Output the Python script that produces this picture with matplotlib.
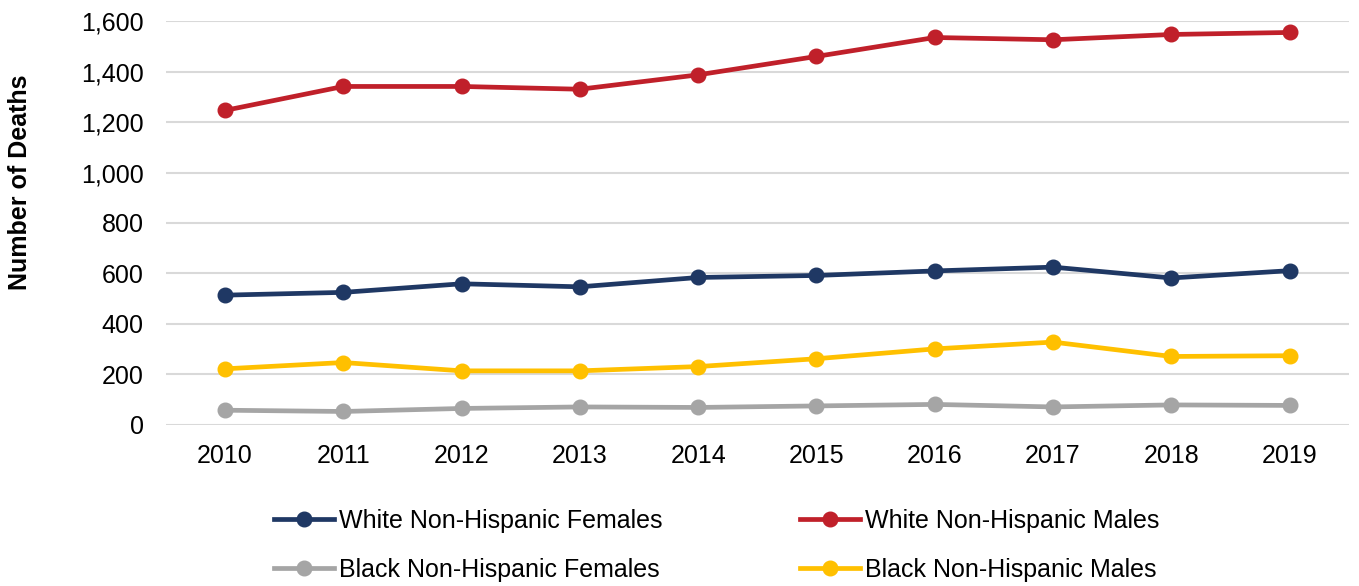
import matplotlib
matplotlib.use("Agg")
import matplotlib.pyplot as plt
from matplotlib.ticker import FuncFormatter
from matplotlib.transforms import blended_transform_factory

plt.rcParams['font.family'] = ['Liberation Sans', 'DejaVu Sans']

years = ["2010", "2011", "2012", "2013", "2014", "2015", "2016", "2017", "2018", "2019"]
white_f = [514, 525, 559, 547, 584, 592, 610, 625, 582, 611]
white_m = [1246, 1341, 1341, 1330, 1387, 1460, 1535, 1526, 1547, 1555]
black_f = [58, 53, 65, 71, 69, 75, 81, 71, 79, 77]
black_m = [222, 247, 214, 214, 231, 262, 301, 328, 271, 274]

series = [
    ("White Non-Hispanic Females", white_f, "#1F3864"),
    ("White Non-Hispanic Males", white_m, "#C0202A"),
    ("Black Non-Hispanic Females", black_f, "#A5A5A5"),
    ("Black Non-Hispanic Males", black_m, "#FFC000"),
]

fig = plt.figure(figsize=(13.59, 5.86), dpi=100)
ax = fig.add_axes([0.122, 0.275, 0.8705, 0.689])
x = list(range(len(years)))
handles = {}
for name, vals, col in series:
    h, = ax.plot(x, vals, color=col, lw=3.4, marker='o', ms=10.5, label=name, zorder=3)
    handles[name] = h

ax.set_xlim(-0.5, len(years) - 0.5)
ax.set_ylim(0, 1600)
ax.set_yticks(range(0, 1601, 200))
ax.yaxis.set_major_formatter(FuncFormatter(lambda v, p: f"{int(v):,}"))
ax.set_xticks(x)
ax.set_xticklabels(years)
ax.grid(axis='y', color='#D9D9D9', lw=1.5, zorder=0)
for s in ax.spines.values():
    s.set_visible(False)
ax.tick_params(axis='both', length=0, labelsize=18, colors='black')
ax.tick_params(axis='x', pad=14)
ax.tick_params(axis='y', pad=16)
ax.set_ylabel("Number of Deaths", fontsize=18, fontweight='bold')
ax.yaxis.set_label_coords(32 / 1359, 0.601,
                          transform=blended_transform_factory(fig.transFigure, ax.transAxes))

order = ["White Non-Hispanic Females", "Black Non-Hispanic Females",
         "White Non-Hispanic Males", "Black Non-Hispanic Males"]
fig.legend([handles[n] for n in order], order, loc='upper left',
           bbox_to_anchor=(274 / 1359, 0.131), ncol=2, frameon=False,
           fontsize=18, handlelength=2.4, handletextpad=0.2, columnspacing=5.5,
           labelspacing=0.98, borderaxespad=0, borderpad=0)

fig.savefig("out.png", dpi=100)
